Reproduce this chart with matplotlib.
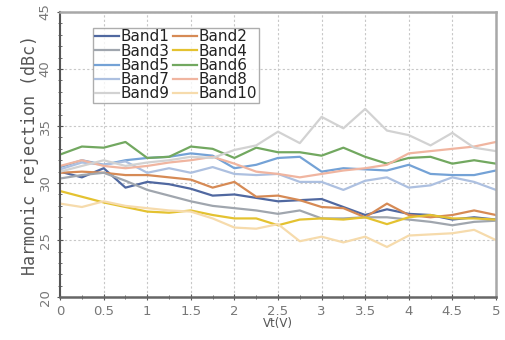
import matplotlib
matplotlib.use("Agg")
import matplotlib.pyplot as plt
import matplotlib.ticker as ticker
import numpy as np

# Vt sweep, 0..5 V in 0.25 V steps
vt = [0, 0.25, 0.5, 0.75, 1, 1.25, 1.5, 1.75, 2, 2.25, 2.5,
      2.75, 3, 3.25, 3.5, 3.75, 4, 4.25, 4.5, 4.75, 5]

band1 = [31.0, 30.5, 31.3, 29.6, 30.1, 29.9, 29.5, 28.9, 29.0, 28.7, 28.4,
         28.5, 28.6, 27.9, 27.2, 27.7, 27.3, 27.2, 26.8, 27.0, 26.8]
band2 = [30.9, 31.0, 30.9, 30.7, 30.7, 30.5, 30.3, 29.6, 30.1, 28.8, 28.9,
         28.5, 27.9, 27.8, 27.0, 28.2, 27.2, 27.0, 27.2, 27.6, 27.2]
band3 = [30.4, 30.7, 30.9, 30.2, 29.4, 28.9, 28.4, 28.0, 27.8, 27.6, 27.3,
         27.6, 26.9, 26.9, 27.0, 27.0, 26.8, 26.6, 26.3, 26.6, 26.7]
band4 = [29.3, 28.8, 28.3, 27.9, 27.5, 27.4, 27.6, 27.2, 26.9, 26.9, 26.3,
         26.8, 26.9, 26.8, 27.0, 26.4, 27.0, 27.2, 26.9, 26.9, 26.8]
band5 = [31.4, 32.0, 31.6, 32.0, 32.2, 32.3, 32.6, 32.4, 31.3, 31.6, 32.2,
         32.3, 31.0, 31.3, 31.2, 31.1, 31.6, 30.8, 30.7, 30.7, 31.1]
band6 = [32.5, 33.2, 33.1, 33.6, 32.2, 32.3, 33.2, 33.0, 32.2, 33.1, 32.7,
         32.7, 32.4, 33.1, 32.3, 31.7, 32.2, 32.3, 31.7, 32.0, 31.7]
band7 = [31.2, 31.8, 31.6, 31.9, 30.9, 31.3, 30.9, 31.4, 30.8, 30.7, 30.8,
         30.1, 30.1, 29.4, 30.2, 30.5, 29.6, 29.8, 30.5, 30.1, 29.4]
band8 = [31.5, 32.0, 31.5, 31.3, 31.5, 31.8, 32.0, 32.3, 31.7, 31.0, 30.8,
         30.5, 30.8, 31.1, 31.3, 31.6, 32.6, 32.8, 33.0, 33.2, 33.6]
band9 = [31.0, 31.5, 32.0, 31.5, 31.8, 32.0, 32.3, 32.2, 32.9, 33.3, 34.5,
         33.5, 35.8, 34.8, 36.5, 34.6, 34.2, 33.3, 34.4, 33.1, 32.8]
band10 = [28.2, 27.9, 28.4, 28.0, 27.8, 27.6, 27.5, 26.9, 26.1, 26.0, 26.4,
          24.9, 25.3, 24.8, 25.3, 24.4, 25.4, 25.5, 25.6, 25.9, 25.0]

bands = [band1, band2, band3, band4, band5, band6, band7, band8, band9, band10]
names = ["Band1", "Band2", "Band3", "Band4", "Band5",
         "Band6", "Band7", "Band8", "Band9", "Band10"]
colors = ["#5068a0", "#d68a55", "#a0a6ae", "#e4c230", "#74a2d6",
          "#72a860", "#adc0e0", "#f0b5a0", "#d2d2d2", "#f6dbac"]

fig = plt.figure(figsize=(5.05, 3.40), dpi=100)
ax = fig.add_axes([0.119, 0.126, 0.863, 0.839])

lines = []
for vals, name, col in zip(bands, names, colors):
    ln, = ax.plot(vt, vals, color=col, linewidth=1.6, label=name)
    lines.append(ln)

ax.set_xlim(0, 5)
ax.set_ylim(20, 45)
ax.xaxis.set_major_locator(ticker.MultipleLocator(0.5))
ax.xaxis.set_minor_locator(ticker.MultipleLocator(0.25))
ax.yaxis.set_major_locator(ticker.MultipleLocator(5))
ax.yaxis.set_minor_locator(ticker.MultipleLocator(1))
ax.xaxis.set_major_formatter(ticker.FuncFormatter(lambda v, p: f"{v:g}"))

ax.grid(True, which="major", color="#c8c8c8", linestyle=(0, (2, 2)), linewidth=0.8)
ax.set_axisbelow(True)

ax.tick_params(which="both", direction="inout", colors="#555555",
               labelcolor="#777777", labelsize=9.5)
ax.tick_params(which="major", length=5)
ax.tick_params(which="minor", length=3)
for lbl in ax.get_yticklabels():
    lbl.set_rotation(90)
    lbl.set_va("center")

for side in ["top", "right", "bottom"]:
    ax.spines[side].set_color("#a8a8a8")
    ax.spines[side].set_linewidth(1.8)
ax.spines["left"].set_color("#555555")
ax.spines["left"].set_linewidth(1.5)
ax.spines["bottom"].set_color("#666666")

ax.set_xlabel("Vt(V)", fontsize=8.5, color="#555555", labelpad=-1)
ax.set_ylabel("Harmonic rejection (dBc)", fontsize=12,
              family="DejaVu Sans Mono", color="#555555", labelpad=0)

# legend filled row by row: Band1 Band2 / Band3 Band4 ...
order = [0, 2, 4, 6, 8, 1, 3, 5, 7, 9]
leg = ax.legend([lines[i] for i in order], [names[i] for i in order],
                ncol=2, loc="upper left", bbox_to_anchor=(0.076, 0.944),
                fontsize=11, handlelength=1.6, handletextpad=0.1,
                columnspacing=0.2, labelspacing=-0.05, borderpad=0.1,
                borderaxespad=0, frameon=True, fancybox=False)
leg.get_frame().set_edgecolor("#999999")
leg.get_frame().set_linewidth(1.0)
for t in leg.get_texts():
    t.set_color("#222222")

fig.savefig("out.png", dpi=100)
